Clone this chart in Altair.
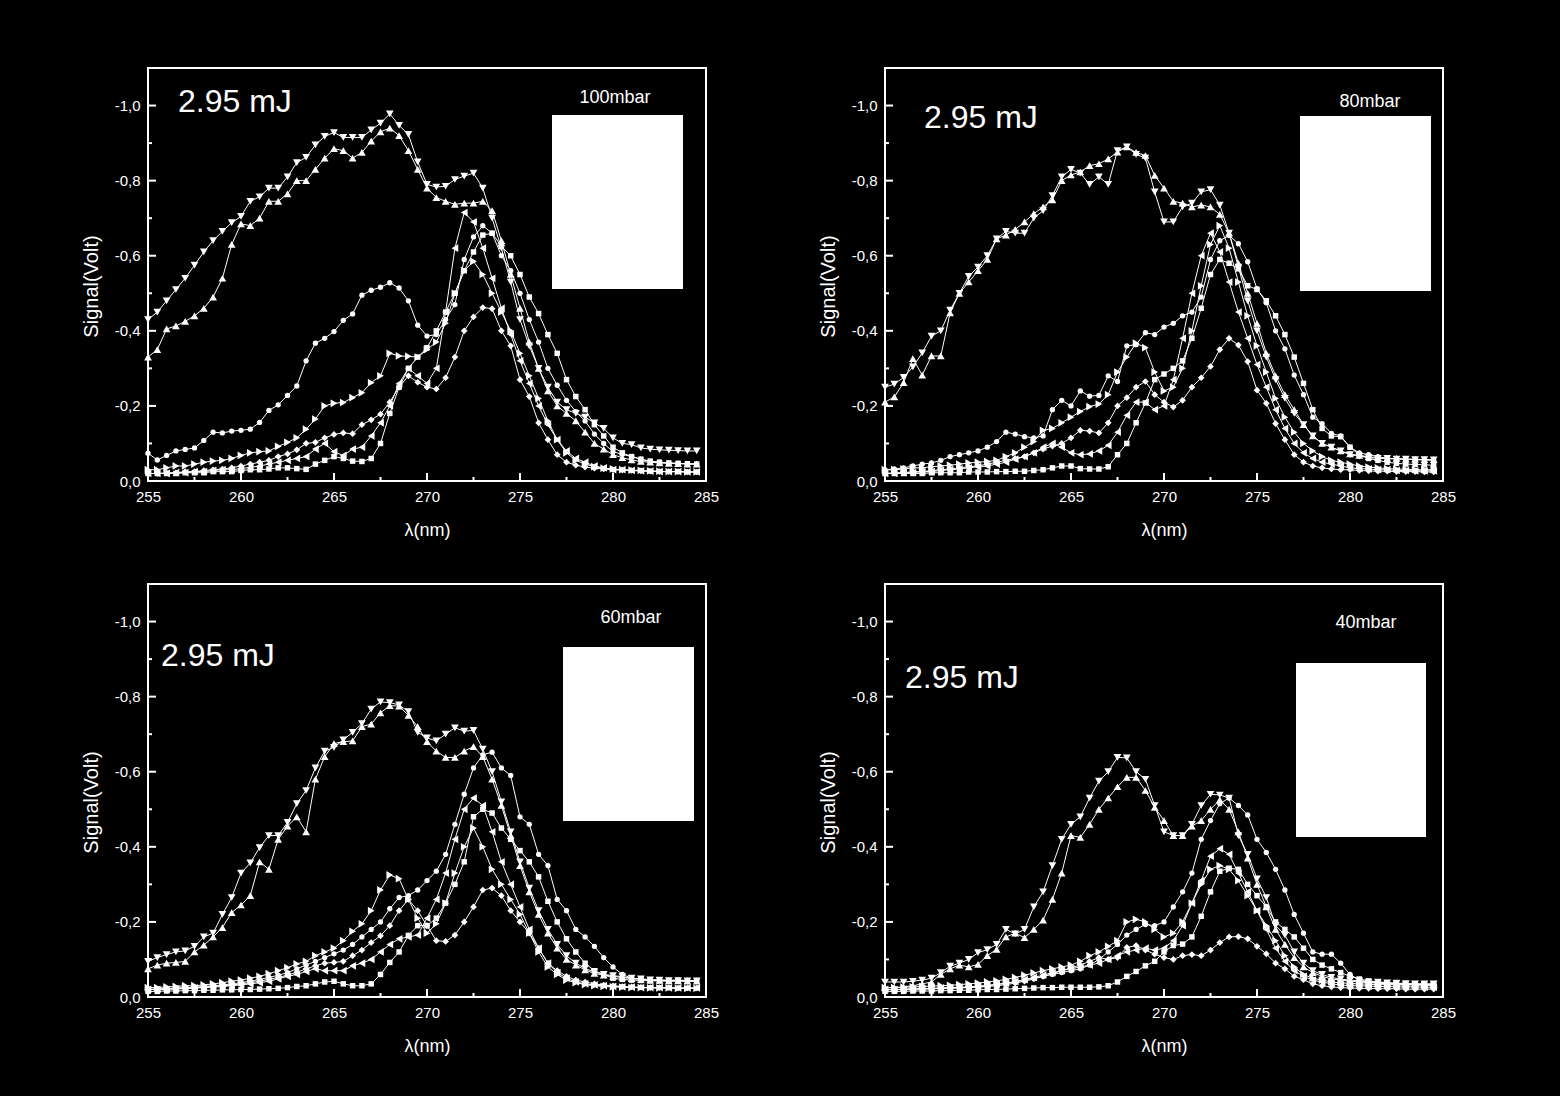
import altair as alt
import pandas as pd

# ---------------- data ----------------
WL = [255.0, 255.5, 256.0, 256.5, 257.0, 257.5, 258.0, 258.5, 259.0, 259.5,
      260.0, 260.5, 261.0, 261.5, 262.0, 262.5, 263.0, 263.5, 264.0, 264.5,
      265.0, 265.5, 266.0, 266.5, 267.0, 267.5, 268.0, 268.5, 269.0, 269.5,
      270.0, 270.5, 271.0, 271.5, 272.0, 272.5, 273.0, 273.5, 274.0, 274.5,
      275.0, 275.5, 276.0, 276.5, 277.0, 277.5, 278.0, 278.5, 279.0, 279.5,
      280.0, 280.5, 281.0, 281.5, 282.0, 282.5, 283.0, 283.5, 284.0, 284.5]

SERIES = ["tri_down", "tri_up", "circle", "square", "diamond", "tri_right", "tri_left"]
SHAPES = {"tri_down": "triangle-down", "tri_up": "triangle-up", "circle": "circle",
          "square": "square", "diamond": "diamond", "tri_right": "triangle-right",
          "tri_left": "triangle-left"}
SIZES = {"tri_down": 60, "tri_up": 60, "circle": 28, "square": 30, "diamond": 45,
         "tri_right": 60, "tri_left": 60}

# signal magnitudes (V); plotted as negative volts
P100_TRI_DOWN = [0.43, 0.45, 0.48, 0.51, 0.54, 0.575, 0.61, 0.64, 0.665, 0.688,
                 0.705, 0.745, 0.757, 0.78, 0.78, 0.81, 0.848, 0.862, 0.895, 0.918,
                 0.928, 0.915, 0.915, 0.915, 0.935, 0.953, 0.978, 0.947, 0.923, 0.85,
                 0.79, 0.783, 0.785, 0.803, 0.812, 0.82, 0.78, 0.70, 0.62, 0.53,
                 0.43, 0.36, 0.30, 0.25, 0.21, 0.19, 0.18, 0.17, 0.155, 0.14,
                 0.115, 0.10, 0.097, 0.088, 0.085, 0.083, 0.082, 0.081, 0.08, 0.08]
P100_TRI_UP = [0.33, 0.35, 0.405, 0.413, 0.425, 0.44, 0.46, 0.49, 0.54, 0.63,
               0.685, 0.68, 0.70, 0.745, 0.745, 0.765, 0.80, 0.80, 0.83, 0.86,
               0.885, 0.88, 0.86, 0.875, 0.905, 0.93, 0.94, 0.92, 0.88, 0.83,
               0.78, 0.755, 0.745, 0.737, 0.74, 0.74, 0.745, 0.72, 0.64, 0.55,
               0.46, 0.37, 0.30, 0.24, 0.20, 0.18, 0.16, 0.13, 0.10, 0.085,
               0.07, 0.062, 0.056, 0.052, 0.05, 0.048, 0.047, 0.046, 0.045, 0.045]
P100_CIRCLE = [0.074, 0.056, 0.068, 0.08, 0.084, 0.088, 0.108, 0.13, 0.128, 0.133,
               0.135, 0.138, 0.156, 0.188, 0.203, 0.228, 0.253, 0.32, 0.367, 0.38,
               0.398, 0.428, 0.445, 0.495, 0.508, 0.516, 0.528, 0.514, 0.48, 0.415,
               0.386, 0.39, 0.43, 0.47, 0.59, 0.65, 0.68, 0.66, 0.60, 0.56,
               0.50, 0.43, 0.37, 0.30, 0.255, 0.215, 0.185, 0.16, 0.125, 0.10,
               0.078, 0.071, 0.065, 0.058, 0.052, 0.05, 0.048, 0.047, 0.046, 0.045]
P100_SQUARE = [0.02, 0.02, 0.02, 0.02, 0.022, 0.022, 0.022, 0.025, 0.025, 0.025,
               0.028, 0.03, 0.03, 0.032, 0.035, 0.035, 0.033, 0.031, 0.045, 0.055,
               0.065, 0.06, 0.053, 0.052, 0.06, 0.10, 0.18, 0.25, 0.30, 0.33,
               0.355, 0.40, 0.45, 0.50, 0.56, 0.61, 0.655, 0.66, 0.625, 0.60,
               0.55, 0.49, 0.446, 0.39, 0.34, 0.27, 0.225, 0.19, 0.15, 0.12,
               0.09, 0.075, 0.065, 0.058, 0.053, 0.05, 0.048, 0.047, 0.046, 0.045]
P100_DIAMOND = [0.02, 0.02, 0.022, 0.022, 0.025, 0.025, 0.028, 0.03, 0.032, 0.035,
                0.04, 0.045, 0.05, 0.055, 0.065, 0.072, 0.083, 0.10, 0.103, 0.115,
                0.124, 0.128, 0.126, 0.15, 0.163, 0.178, 0.21, 0.25, 0.28, 0.263,
                0.25, 0.245, 0.275, 0.33, 0.40, 0.437, 0.462, 0.459, 0.40, 0.36,
                0.27, 0.225, 0.155, 0.11, 0.07, 0.05, 0.042, 0.037, 0.034, 0.032,
                0.03, 0.029, 0.028, 0.027, 0.026, 0.025, 0.025, 0.025, 0.024, 0.024]
P100_TRI_RIGHT = [0.03, 0.03, 0.035, 0.04, 0.04, 0.045, 0.05, 0.053, 0.055, 0.06,
                  0.068, 0.075, 0.078, 0.08, 0.092, 0.103, 0.115, 0.138, 0.165, 0.20,
                  0.207, 0.209, 0.222, 0.235, 0.262, 0.28, 0.34, 0.333, 0.332, 0.33,
                  0.35, 0.37, 0.42, 0.50, 0.56, 0.585, 0.55, 0.50, 0.45, 0.40,
                  0.34, 0.28, 0.22, 0.16, 0.11, 0.075, 0.055, 0.045, 0.038, 0.034,
                  0.032, 0.03, 0.029, 0.028, 0.027, 0.026, 0.025, 0.025, 0.024, 0.024]
P100_TRI_LEFT = [0.02, 0.02, 0.02, 0.022, 0.022, 0.025, 0.025, 0.028, 0.03, 0.03,
                 0.033, 0.036, 0.04, 0.045, 0.05, 0.055, 0.06, 0.065, 0.085, 0.10,
                 0.078, 0.068, 0.085, 0.09, 0.12, 0.155, 0.20, 0.26, 0.30, 0.28,
                 0.26, 0.30, 0.45, 0.62, 0.715, 0.69, 0.62, 0.54, 0.46, 0.39,
                 0.32, 0.26, 0.20, 0.15, 0.11, 0.08, 0.06, 0.05, 0.04, 0.035,
                 0.03, 0.03, 0.028, 0.027, 0.026, 0.025, 0.025, 0.025, 0.024, 0.024]

P80_TRI_DOWN = [0.25, 0.258, 0.276, 0.304, 0.341, 0.386, 0.40, 0.455, 0.50, 0.545,
                0.57, 0.60, 0.645, 0.665, 0.66, 0.66, 0.70, 0.72, 0.76, 0.81,
                0.83, 0.82, 0.79, 0.81, 0.79, 0.88, 0.89, 0.87, 0.86, 0.77,
                0.69, 0.69, 0.73, 0.74, 0.77, 0.776, 0.735, 0.66, 0.57, 0.48,
                0.40, 0.33, 0.27, 0.22, 0.18, 0.15, 0.12, 0.10, 0.09, 0.08,
                0.07, 0.066, 0.063, 0.06, 0.06, 0.058, 0.058, 0.057, 0.057, 0.056]
P80_TRI_UP = [0.21, 0.224, 0.262, 0.326, 0.282, 0.333, 0.333, 0.448, 0.50, 0.53,
              0.56, 0.59, 0.645, 0.655, 0.67, 0.69, 0.712, 0.73, 0.749, 0.80,
              0.815, 0.823, 0.84, 0.845, 0.858, 0.876, 0.89, 0.875, 0.867, 0.814,
              0.78, 0.745, 0.74, 0.73, 0.735, 0.73, 0.71, 0.66, 0.58, 0.50,
              0.42, 0.34, 0.28, 0.23, 0.19, 0.15, 0.12, 0.10, 0.09, 0.08,
              0.072, 0.068, 0.065, 0.062, 0.06, 0.06, 0.058, 0.058, 0.057, 0.057]
P80_CIRCLE = [0.03, 0.032, 0.035, 0.04, 0.045, 0.048, 0.055, 0.065, 0.07, 0.075,
              0.08, 0.09, 0.105, 0.13, 0.125, 0.118, 0.115, 0.12, 0.19, 0.215,
              0.20, 0.24, 0.226, 0.228, 0.28, 0.265, 0.36, 0.363, 0.395, 0.39,
              0.41, 0.42, 0.44, 0.45, 0.49, 0.59, 0.64, 0.654, 0.632, 0.584,
              0.512, 0.475, 0.40, 0.352, 0.282, 0.23, 0.17, 0.153, 0.127, 0.12,
              0.09, 0.075, 0.07, 0.065, 0.06, 0.06, 0.058, 0.057, 0.056, 0.055]
P80_SQUARE = [0.02, 0.02, 0.02, 0.02, 0.02, 0.022, 0.022, 0.022, 0.022, 0.024,
              0.024, 0.024, 0.025, 0.025, 0.026, 0.026, 0.028, 0.03, 0.035, 0.04,
              0.04, 0.033, 0.032, 0.032, 0.038, 0.07, 0.10, 0.155, 0.208, 0.27,
              0.285, 0.30, 0.32, 0.38, 0.46, 0.55, 0.59, 0.58, 0.565, 0.52,
              0.51, 0.48, 0.44, 0.39, 0.33, 0.26, 0.19, 0.14, 0.12, 0.118,
              0.09, 0.07, 0.06, 0.055, 0.05, 0.047, 0.045, 0.044, 0.043, 0.042]
P80_DIAMOND = [0.02, 0.022, 0.022, 0.025, 0.025, 0.028, 0.03, 0.032, 0.035, 0.038,
               0.04, 0.045, 0.05, 0.055, 0.06, 0.065, 0.075, 0.085, 0.093, 0.10,
               0.115, 0.135, 0.133, 0.128, 0.155, 0.20, 0.222, 0.25, 0.265, 0.23,
               0.21, 0.197, 0.215, 0.25, 0.275, 0.305, 0.35, 0.38, 0.362, 0.318,
               0.242, 0.207, 0.153, 0.11, 0.07, 0.05, 0.04, 0.035, 0.032, 0.03,
               0.03, 0.028, 0.027, 0.026, 0.026, 0.025, 0.025, 0.025, 0.024, 0.024]
P80_TRI_RIGHT = [0.03, 0.03, 0.032, 0.035, 0.035, 0.038, 0.04, 0.042, 0.045, 0.048,
                 0.05, 0.052, 0.055, 0.065, 0.075, 0.09, 0.105, 0.135, 0.14, 0.155,
                 0.17, 0.185, 0.198, 0.205, 0.23, 0.29, 0.33, 0.367, 0.355, 0.29,
                 0.24, 0.25, 0.30, 0.40, 0.52, 0.63, 0.68, 0.62, 0.53, 0.44,
                 0.36, 0.29, 0.22, 0.17, 0.13, 0.10, 0.08, 0.065, 0.055, 0.05,
                 0.045, 0.04, 0.037, 0.035, 0.033, 0.032, 0.031, 0.03, 0.03, 0.03]
P80_TRI_LEFT = [0.02, 0.02, 0.022, 0.022, 0.025, 0.025, 0.028, 0.03, 0.032, 0.035,
                0.038, 0.04, 0.045, 0.05, 0.058, 0.065, 0.075, 0.09, 0.10, 0.09,
                0.075, 0.07, 0.072, 0.08, 0.095, 0.13, 0.175, 0.21, 0.21, 0.19,
                0.20, 0.27, 0.38, 0.50, 0.60, 0.66, 0.61, 0.53, 0.45, 0.38,
                0.31, 0.25, 0.19, 0.14, 0.10, 0.075, 0.06, 0.05, 0.045, 0.04,
                0.035, 0.033, 0.032, 0.03, 0.03, 0.028, 0.028, 0.027, 0.027, 0.027]

P60_TRI_DOWN = [0.095, 0.105, 0.113, 0.12, 0.123, 0.135, 0.16, 0.17, 0.22, 0.265,
                0.33, 0.357, 0.398, 0.43, 0.43, 0.465, 0.515, 0.55, 0.61, 0.655,
                0.665, 0.685, 0.705, 0.728, 0.767, 0.786, 0.784, 0.778, 0.76, 0.705,
                0.69, 0.682, 0.70, 0.717, 0.708, 0.71, 0.66, 0.60, 0.52, 0.44,
                0.36, 0.29, 0.23, 0.18, 0.14, 0.11, 0.09, 0.076, 0.067, 0.06,
                0.057, 0.054, 0.05, 0.048, 0.046, 0.045, 0.044, 0.044, 0.043, 0.043]
P60_TRI_UP = [0.075, 0.085, 0.09, 0.092, 0.095, 0.12, 0.138, 0.16, 0.185, 0.225,
              0.245, 0.27, 0.36, 0.34, 0.42, 0.455, 0.48, 0.44, 0.58, 0.64,
              0.675, 0.68, 0.682, 0.72, 0.727, 0.757, 0.776, 0.775, 0.75, 0.72,
              0.68, 0.655, 0.638, 0.638, 0.655, 0.667, 0.64, 0.58, 0.51, 0.43,
              0.35, 0.28, 0.22, 0.17, 0.13, 0.10, 0.085, 0.072, 0.063, 0.058,
              0.055, 0.052, 0.049, 0.047, 0.045, 0.044, 0.043, 0.043, 0.042, 0.042]
P60_CIRCLE = [0.02, 0.022, 0.022, 0.024, 0.025, 0.026, 0.028, 0.03, 0.032, 0.035,
              0.038, 0.042, 0.047, 0.052, 0.058, 0.065, 0.075, 0.085, 0.095, 0.105,
              0.115, 0.125, 0.14, 0.16, 0.18, 0.20, 0.235, 0.265, 0.27, 0.285,
              0.31, 0.335, 0.38, 0.46, 0.54, 0.61, 0.645, 0.652, 0.61, 0.59,
              0.48, 0.46, 0.38, 0.35, 0.26, 0.23, 0.18, 0.16, 0.135, 0.105,
              0.08, 0.06, 0.05, 0.048, 0.046, 0.045, 0.045, 0.045, 0.044, 0.044]
P60_SQUARE = [0.015, 0.015, 0.016, 0.016, 0.017, 0.017, 0.018, 0.018, 0.019, 0.019,
              0.02, 0.02, 0.021, 0.022, 0.023, 0.025, 0.028, 0.03, 0.035, 0.04,
              0.042, 0.035, 0.03, 0.03, 0.035, 0.06, 0.092, 0.12, 0.164, 0.19,
              0.19, 0.21, 0.25, 0.30, 0.36, 0.48, 0.50, 0.49, 0.45, 0.42,
              0.39, 0.36, 0.32, 0.255, 0.20, 0.155, 0.12, 0.09, 0.07, 0.06,
              0.05, 0.047, 0.045, 0.044, 0.043, 0.043, 0.042, 0.042, 0.042, 0.042]
P60_DIAMOND = [0.02, 0.02, 0.022, 0.022, 0.024, 0.024, 0.026, 0.028, 0.03, 0.032,
               0.035, 0.038, 0.042, 0.047, 0.052, 0.058, 0.066, 0.075, 0.083, 0.09,
               0.092, 0.095, 0.11, 0.125, 0.145, 0.163, 0.19, 0.23, 0.26, 0.23,
               0.19, 0.15, 0.148, 0.165, 0.20, 0.24, 0.285, 0.29, 0.27, 0.23,
               0.20, 0.17, 0.13, 0.09, 0.07, 0.055, 0.045, 0.04, 0.035, 0.032,
               0.03, 0.028, 0.027, 0.026, 0.025, 0.025, 0.025, 0.024, 0.024, 0.024]
P60_TRI_RIGHT = [0.025, 0.025, 0.027, 0.028, 0.03, 0.03, 0.032, 0.035, 0.038, 0.042,
                 0.045, 0.05, 0.055, 0.062, 0.07, 0.078, 0.088, 0.095, 0.11, 0.12,
                 0.13, 0.15, 0.175, 0.195, 0.23, 0.285, 0.325, 0.315, 0.26, 0.21,
                 0.17, 0.195, 0.25, 0.33, 0.40, 0.45, 0.40, 0.34, 0.30, 0.26,
                 0.22, 0.17, 0.12, 0.08, 0.06, 0.045, 0.038, 0.033, 0.03, 0.028,
                 0.027, 0.026, 0.025, 0.025, 0.024, 0.024, 0.024, 0.023, 0.023, 0.023]
P60_TRI_LEFT = [0.02, 0.02, 0.02, 0.022, 0.022, 0.024, 0.025, 0.026, 0.028, 0.03,
                0.032, 0.035, 0.038, 0.042, 0.048, 0.055, 0.06, 0.068, 0.075, 0.07,
                0.07, 0.07, 0.083, 0.09, 0.10, 0.12, 0.14, 0.155, 0.16, 0.165,
                0.21, 0.26, 0.33, 0.42, 0.50, 0.53, 0.51, 0.44, 0.36, 0.30,
                0.24, 0.18, 0.13, 0.09, 0.065, 0.05, 0.04, 0.035, 0.032, 0.03,
                0.028, 0.027, 0.026, 0.025, 0.025, 0.025, 0.024, 0.024, 0.024, 0.024]

P40_TRI_DOWN = [0.04, 0.04, 0.04, 0.042, 0.045, 0.05, 0.065, 0.082, 0.09, 0.10,
                0.118, 0.126, 0.14, 0.18, 0.168, 0.18, 0.24, 0.28, 0.35, 0.42,
                0.46, 0.48, 0.53, 0.575, 0.60, 0.638, 0.637, 0.60, 0.58, 0.51,
                0.44, 0.43, 0.43, 0.46, 0.51, 0.54, 0.538, 0.53, 0.43, 0.38,
                0.315, 0.265, 0.19, 0.165, 0.12, 0.09, 0.07, 0.06, 0.052, 0.048,
                0.045, 0.043, 0.04, 0.04, 0.038, 0.037, 0.036, 0.035, 0.035, 0.035]
P40_TRI_UP = [0.025, 0.025, 0.027, 0.03, 0.035, 0.04, 0.06, 0.075, 0.085, 0.08,
              0.087, 0.11, 0.127, 0.16, 0.17, 0.158, 0.18, 0.205, 0.26, 0.33,
              0.43, 0.425, 0.46, 0.50, 0.53, 0.56, 0.585, 0.585, 0.55, 0.505,
              0.47, 0.43, 0.43, 0.455, 0.47, 0.50, 0.525, 0.50, 0.44, 0.37,
              0.30, 0.24, 0.18, 0.14, 0.105, 0.08, 0.065, 0.055, 0.048, 0.045,
              0.042, 0.04, 0.038, 0.037, 0.036, 0.035, 0.035, 0.034, 0.034, 0.034]
P40_CIRCLE = [0.02, 0.02, 0.02, 0.022, 0.022, 0.022, 0.024, 0.024, 0.025, 0.026,
              0.028, 0.03, 0.033, 0.036, 0.04, 0.045, 0.05, 0.055, 0.06, 0.065,
              0.07, 0.075, 0.085, 0.10, 0.12, 0.14, 0.165, 0.18, 0.193, 0.19,
              0.20, 0.24, 0.28, 0.33, 0.42, 0.47, 0.515, 0.53, 0.51, 0.485,
              0.42, 0.385, 0.34, 0.285, 0.22, 0.17, 0.12, 0.114, 0.114, 0.09,
              0.06, 0.045, 0.04, 0.037, 0.035, 0.034, 0.033, 0.033, 0.032, 0.032]
P40_SQUARE = [0.015, 0.015, 0.015, 0.016, 0.016, 0.016, 0.017, 0.017, 0.018, 0.018,
              0.019, 0.02, 0.02, 0.021, 0.022, 0.023, 0.024, 0.025, 0.025, 0.026,
              0.026, 0.026, 0.026, 0.027, 0.03, 0.04, 0.055, 0.068, 0.083, 0.095,
              0.12, 0.137, 0.141, 0.16, 0.215, 0.28, 0.335, 0.343, 0.34, 0.30,
              0.27, 0.24, 0.20, 0.18, 0.16, 0.13, 0.10, 0.085, 0.075, 0.065,
              0.055, 0.048, 0.043, 0.04, 0.038, 0.036, 0.035, 0.034, 0.034, 0.033]
P40_DIAMOND = [0.02, 0.02, 0.02, 0.021, 0.021, 0.022, 0.022, 0.023, 0.024, 0.025,
               0.026, 0.028, 0.03, 0.033, 0.037, 0.042, 0.048, 0.055, 0.062, 0.07,
               0.078, 0.085, 0.095, 0.105, 0.10, 0.105, 0.132, 0.137, 0.125, 0.114,
               0.105, 0.10, 0.11, 0.113, 0.11, 0.125, 0.145, 0.16, 0.161, 0.155,
               0.135, 0.115, 0.09, 0.075, 0.055, 0.046, 0.035, 0.03, 0.027, 0.025,
               0.024, 0.023, 0.023, 0.022, 0.022, 0.022, 0.021, 0.021, 0.021, 0.021]
P40_TRI_RIGHT = [0.025, 0.025, 0.026, 0.027, 0.028, 0.029, 0.03, 0.031, 0.033, 0.035,
                 0.037, 0.04, 0.043, 0.047, 0.052, 0.058, 0.064, 0.07, 0.075, 0.08,
                 0.085, 0.095, 0.11, 0.12, 0.135, 0.15, 0.20, 0.207, 0.20, 0.18,
                 0.16, 0.17, 0.20, 0.25, 0.30, 0.34, 0.35, 0.34, 0.31, 0.27,
                 0.23, 0.19, 0.15, 0.11, 0.08, 0.06, 0.05, 0.045, 0.04, 0.038,
                 0.036, 0.035, 0.034, 0.033, 0.033, 0.032, 0.032, 0.032, 0.031, 0.031]
P40_TRI_LEFT = [0.02, 0.02, 0.021, 0.021, 0.022, 0.023, 0.024, 0.025, 0.026, 0.027,
                0.029, 0.031, 0.034, 0.037, 0.041, 0.046, 0.052, 0.058, 0.065, 0.07,
                0.075, 0.08, 0.085, 0.09, 0.10, 0.11, 0.12, 0.125, 0.13, 0.125,
                0.13, 0.15, 0.19, 0.25, 0.31, 0.375, 0.395, 0.38, 0.33, 0.28,
                0.23, 0.18, 0.13, 0.095, 0.07, 0.055, 0.045, 0.04, 0.035, 0.032,
                0.03, 0.03, 0.029, 0.028, 0.028, 0.027, 0.027, 0.027, 0.026, 0.026]

X_TICKS_MAJOR = [255, 260, 265, 270, 275, 280, 285]
X_TICKS_MINOR = [257.5, 262.5, 267.5, 272.5, 277.5, 282.5]
Y_TICKS_MAJOR = [0.0, -0.2, -0.4, -0.6, -0.8, -1.0]
Y_TICKS_MINOR = [-0.1, -0.3, -0.5, -0.7, -0.9]

PANELS = [
    {"pressure": "100mbar", "energy": "2.95 mJ",
     "data": [P100_TRI_DOWN, P100_TRI_UP, P100_CIRCLE, P100_SQUARE, P100_DIAMOND, P100_TRI_RIGHT, P100_TRI_LEFT],
     "mj": (30, 44), "mbar": (467, 35), "rect": (404, 535, 47, 221)},
    {"pressure": "80mbar", "energy": "2.95 mJ",
     "data": [P80_TRI_DOWN, P80_TRI_UP, P80_CIRCLE, P80_SQUARE, P80_DIAMOND, P80_TRI_RIGHT, P80_TRI_LEFT],
     "mj": (39, 60), "mbar": (485, 39), "rect": (415, 546, 48, 223)},
    {"pressure": "60mbar", "energy": "2.95 mJ",
     "data": [P60_TRI_DOWN, P60_TRI_UP, P60_CIRCLE, P60_SQUARE, P60_DIAMOND, P60_TRI_RIGHT, P60_TRI_LEFT],
     "mj": (13, 82), "mbar": (483, 39), "rect": (415, 546, 63, 237)},
    {"pressure": "40mbar", "energy": "2.95 mJ",
     "data": [P40_TRI_DOWN, P40_TRI_UP, P40_CIRCLE, P40_SQUARE, P40_DIAMOND, P40_TRI_RIGHT, P40_TRI_LEFT],
     "mj": (20, 104), "mbar": (481, 44), "rect": (411, 541, 79, 253)},
]

# ---------------- layout / style ----------------
W, H = 558, 413
FONT = "Liberation Sans"
XS = alt.Scale(domain=[255, 285], nice=False, zero=False)
YS = alt.Scale(domain=[0, -1.1], nice=False, zero=False)
Y_LABEL_EXPR = "datum.value == 0 ? '0,0' : '-' + replace(format(-datum.value, '.1f'), '.', ',')"


def make_panel(p):
    rows = []
    for name, vals in zip(SERIES, p["data"]):
        for x, v in zip(WL, vals):
            rows.append({"wl": x, "sig": -v, "series": name})
    df = pd.DataFrame(rows)

    x_axis = alt.Axis(values=X_TICKS_MAJOR, format="d", grid=False, domain=False, ticks=False,
                      labelFlush=False, labelPadding=8, labelFontSize=15, labelColor="white",
                      labelFont=FONT, title="λ(nm)", titleFontSize=18, titleColor="white",
                      titleFont=FONT, titleFontWeight="normal", titlePadding=17)
    y_axis = alt.Axis(values=Y_TICKS_MAJOR, grid=False, domain=False, ticks=False,
                      labelExpr=Y_LABEL_EXPR, labelFlush=False,
                      labelPadding=8, labelFontSize=15, labelColor="white", labelFont=FONT,
                      title="Signal(Volt)", titleFontSize=20, titleColor="white", titleFont=FONT,
                      titleFontWeight="normal", titlePadding=13, titleY=218)

    lines = alt.Chart(df).mark_line(color="white", strokeWidth=1).encode(
        x=alt.X("wl:Q", scale=XS, axis=x_axis),
        y=alt.Y("sig:Q", scale=YS, axis=y_axis),
        detail="series:N")
    layers = [lines]
    for name in SERIES:
        layers.append(alt.Chart(df).transform_filter(alt.datum.series == name).mark_point(
            shape=SHAPES[name], size=SIZES[name], filled=True, color="white",
            opacity=1, strokeWidth=0).encode(
            x=alt.X("wl:Q", scale=XS, axis=None),
            y=alt.Y("sig:Q", scale=YS, axis=None)))

    # inward ticks
    for vals, ln in ((X_TICKS_MAJOR, 8), (X_TICKS_MINOR, 4)):
        layers.append(alt.Chart(pd.DataFrame({"wl": vals})).mark_rule(color="white", strokeWidth=2).encode(
            x=alt.X("wl:Q", scale=XS, axis=None), y=alt.value(H), y2=alt.value(H - ln)))
    for vals, ln in ((Y_TICKS_MAJOR, 8), (Y_TICKS_MINOR, 4)):
        layers.append(alt.Chart(pd.DataFrame({"sig": vals})).mark_rule(color="white", strokeWidth=2).encode(
            y=alt.Y("sig:Q", scale=YS, axis=None), x=alt.value(0), x2=alt.value(ln)))

    one = pd.DataFrame({"k": [0]})
    x0, x1, y0, y1 = p["rect"]
    layers.append(alt.Chart(one).mark_rect(color="white").encode(
        x=alt.value(x0), x2=alt.value(x1), y=alt.value(y0), y2=alt.value(y1)))
    layers.append(alt.Chart(one).mark_text(text=p["energy"], align="left", baseline="alphabetic",
                                           fontSize=32, font=FONT, color="white").encode(
        x=alt.value(p["mj"][0]), y=alt.value(p["mj"][1])))
    layers.append(alt.Chart(one).mark_text(text=p["pressure"], align="center", baseline="alphabetic",
                                           fontSize=18, font=FONT, color="white").encode(
        x=alt.value(p["mbar"][0]), y=alt.value(p["mbar"][1])))
    return alt.layer(*layers).resolve_axis(x="independent", y="independent").properties(width=W, height=H)


panels = [make_panel(p) for p in PANELS]
chart = alt.concat(*panels, columns=2, spacing={"row": 43, "column": 97}).properties(
    padding={"left": 80, "top": 67, "right": 103, "bottom": 40},
    background="black",
).configure(font=FONT).configure_view(stroke="white", strokeWidth=2)

chart.save("out.html", embed_options={"renderer": "svg", "actions": False})
